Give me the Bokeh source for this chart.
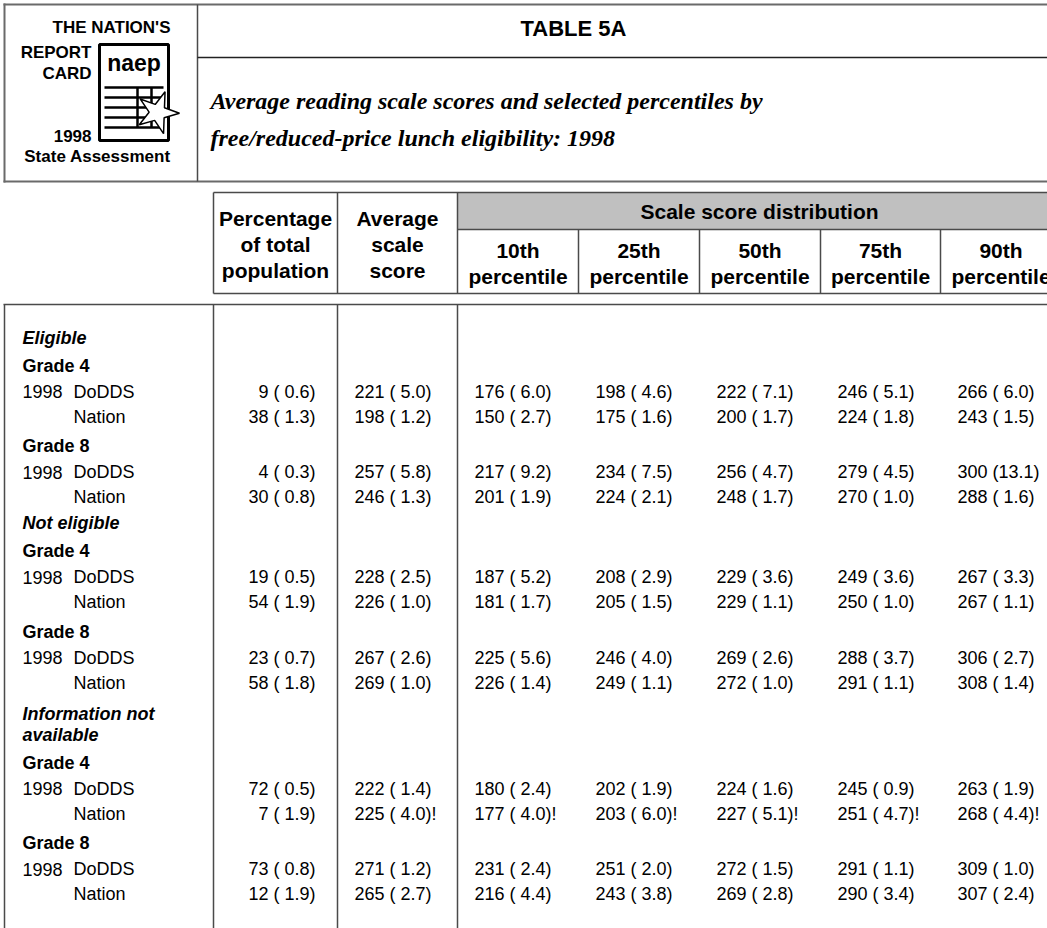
import textwrap
from bokeh.plotting import figure
from bokeh.models import Range1d
from bokeh.core.properties import value
from bokeh.embed import file_html
from bokeh.resources import INLINE

# ---------------- data ----------------
title = "TABLE 5A"
subtitle = ["Average reading scale scores and selected percentiles by",
            "free/reduced-price lunch eligibility: 1998"]
logo_lines = ["THE NATION'S", "REPORT", "CARD", "1998", "State Assessment"]
groups = ["Eligible", "Not eligible", "Information not available"]
grades = ["Grade 4", "Grade 8"]
jurisdictions = [("1998", "DoDDS"), ("", "Nation")]
head_pct = ["Percentage", "of total", "population"]
head_avg = ["Average", "scale", "score"]
spanner = "Scale score distribution"
pct_labels = ["10th", "25th", "50th", "75th", "90th"]

pct = [9, 38, 4, 30, 19, 54, 23, 58, 72, 7, 73, 12]
pct_se = [0.6, 1.3, 0.3, 0.8, 0.5, 1.9, 0.7, 1.8, 0.5, 1.9, 0.8, 1.9]
avg = [221, 198, 257, 246, 228, 226, 267, 269, 222, 225, 271, 265]
avg_se = [5.0, 1.2, 5.8, 1.3, 2.5, 1.0, 2.6, 1.0, 1.4, 4.0, 1.2, 2.7]
p10 = [176, 150, 217, 201, 187, 181, 225, 226, 180, 177, 231, 216]
p10_se = [6.0, 2.7, 9.2, 1.9, 5.2, 1.7, 5.6, 1.4, 2.4, 4.0, 2.4, 4.4]
p25 = [198, 175, 234, 224, 208, 205, 246, 249, 202, 203, 251, 243]
p25_se = [4.6, 1.6, 7.5, 2.1, 2.9, 1.5, 4.0, 1.1, 1.9, 6.0, 2.0, 3.8]
p50 = [222, 200, 256, 248, 229, 229, 269, 272, 224, 227, 272, 269]
p50_se = [7.1, 1.7, 4.7, 1.7, 3.6, 1.1, 2.6, 1.0, 1.6, 5.1, 1.5, 2.8]
p75 = [246, 224, 279, 270, 249, 250, 288, 291, 245, 251, 291, 290]
p75_se = [5.1, 1.8, 4.5, 1.0, 3.6, 1.0, 3.7, 1.1, 0.9, 4.7, 1.1, 3.4]
p90 = [266, 243, 300, 288, 267, 267, 306, 308, 263, 268, 309, 307]
p90_se = [6.0, 1.5, 13.1, 1.6, 3.3, 1.1, 2.7, 1.4, 1.9, 4.4, 1.0, 2.4]
flagged = [False] * 9 + [True] + [False] * 2   # "!" marker (not for percentage)

# ---------------- figure ----------------
W, H = 1047, 928
p = figure(width=W, height=H, x_range=Range1d(0, W), y_range=Range1d(H, 0),
           output_backend="svg", toolbar_location=None, min_border=0)
p.axis.visible = False
p.xgrid.visible = False
p.ygrid.visible = False
p.outline_line_color = None
p.background_fill_color = "white"
p.border_fill_color = "white"

SANS = value("Liberation Sans")
SERIF = value("Liberation Serif")
LC = "#4a4a4a"
RIGHT = 1070


def seg(x0, y0, x1, y1, color=LC, w=1.5):
    p.segment(x0=[x0], y0=[y0], x1=[x1], y1=[y1], line_color=color, line_width=w)


def txt(x, y, s, size, font=SANS, style="normal", align="left", color="black"):
    p.text(x=[x], y=[y], text=[s], text_font=font, text_font_size=size,
           text_font_style=style, text_align=align, text_baseline="middle",
           text_color=color)


# ---------- top banner ----------
seg(3, 4, RIGHT, 4, "#6a6a6a", 2)
seg(3, 181, RIGHT, 181, "#6a6a6a", 2)
seg(4, 3, 4, 182, "#6a6a6a", 2)
seg(197, 4, 197, 181, "#4a4a4a", 1.5)
seg(197, 57, RIGHT, 57, "#222222", 1.5)

# logo
LF = "17px"
txt(170, 27, logo_lines[0], LF, SANS, "bold", "right")
txt(91, 52, logo_lines[1], LF, SANS, "bold", "right")
txt(91, 73, logo_lines[2], LF, SANS, "bold", "right")
txt(91, 135, logo_lines[3], LF, SANS, "bold", "right")
txt(97, 156, logo_lines[4], LF, SANS, "bold", "center")
p.quad(left=[99], right=[168], top=[44], bottom=[140], fill_color="white",
       line_color="black", line_width=3)
txt(133.5, 62, "naep", "23px", SANS, "bold", "center")
for yy in (87, 97, 107, 117, 127):
    seg(104, yy, 163, yy, "black", 2.5)
seg(137, 87, 137, 127, "black", 2.5)
seg(151, 87, 151, 127, "black", 2.5)
p.scatter(x=[157], y=[112], marker="star", size=44, angle=-0.35,
          fill_color="white", line_color="black", line_width=1.5)

# title
txt(573, 28, title, "22px", SANS, "bold", "center")
txt(210, 100, subtitle[0], "24px", SERIF, "bold italic", "left")
txt(210, 137, subtitle[1], "24px", SERIF, "bold italic", "left")

# ---------- column header ----------
col_edges = [213, 337, 457, 578, 699, 820, 940, 1061]
p.quad(left=[457], right=[RIGHT], top=[192], bottom=[229], fill_color="#c0c0c0",
       line_color=None)
seg(213, 192, RIGHT, 192)
seg(457, 229, RIGHT, 229)
seg(213, 293, RIGHT, 293)
for x in col_edges[:3]:
    seg(x, 192, x, 293)
for x in col_edges[3:]:
    seg(x, 229, x, 293)

HF = "21px"
for k, s in enumerate(head_pct):
    txt((col_edges[0] + col_edges[1]) / 2, 218 + 26 * k, s, HF, SANS, "bold", "center")
for k, s in enumerate(head_avg):
    txt((col_edges[1] + col_edges[2]) / 2, 218 + 26 * k, s, HF, SANS, "bold", "center")
txt((col_edges[2] + col_edges[-1]) / 2, 211, spanner, HF, SANS, "bold", "center")
for i, lab in enumerate(pct_labels):
    cx = (col_edges[2 + i] + col_edges[3 + i]) / 2
    txt(cx, 250, lab, HF, SANS, "bold", "center")
    txt(cx, 276, "percentile", HF, SANS, "bold", "center")

# ---------- body frame ----------
seg(3, 304, RIGHT, 304)
seg(4, 304, 4, 940)
for x in col_edges[:3]:
    seg(x, 304, x, 940)

# ---------- body rows ----------
FS = "18px"
series = [(avg, avg_se), (p10, p10_se), (p25, p25_se), (p50, p50_se),
          (p75, p75_se), (p90, p90_se)]
y = 337
di = 0
for gi, g in enumerate(groups):
    lines = textwrap.wrap(g, 16)
    if gi:
        y += 26 + 5 * (len(lines) - 1)
    for k, ln in enumerate(lines):
        if k:
            y += 21
        txt(22, y, ln, FS, SANS, "bold italic")
    for ki, gr in enumerate(grades):
        y += 28 if ki == 0 else 29.5
        txt(22, y, gr, FS, SANS, "bold")
        for ji, (yr, jur) in enumerate(jurisdictions):
            y += 26 if ji == 0 else 25
            if yr:
                txt(22, y, yr, FS)
            txt(73, y, jur, FS)
            txt(col_edges[1] - 22, y, f"{pct[di]} ({pct_se[di]:4.1f})", FS, align="right")
            mark = "!" if flagged[di] else ""
            for c, (vals, ses) in enumerate(series):
                txt(col_edges[1 + c] + 17, y, f"{vals[di]} ({ses[di]:4.1f}){mark}", FS)
            di += 1

open("out.html", "w").write(file_html(p, INLINE))
